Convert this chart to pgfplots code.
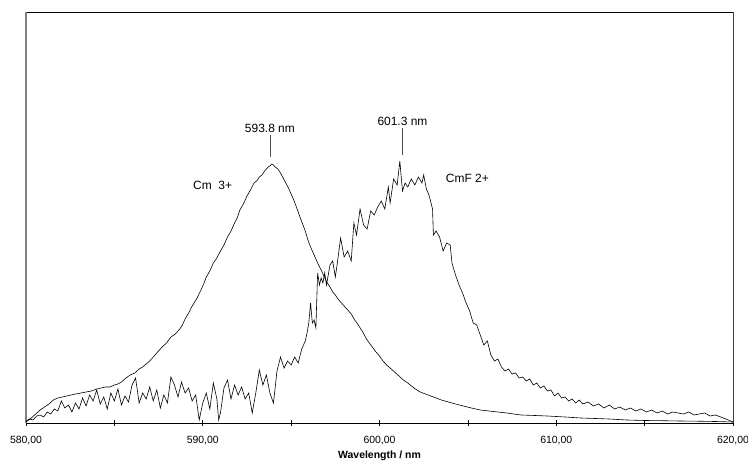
\documentclass[border=0pt]{standalone}
\usepackage{pgfplots}
\pgfplotsset{compat=1.18}
\usepackage{fontspec}
\setmainfont{Liberation Sans}
\usetikzlibrary{calc}
\begin{document}
\begin{tikzpicture}
\begin{axis}[
  name=ax,
  width=707bp, height=411bp, scale only axis,
  xmin=580, xmax=620, ymin=0, ymax=411,
  axis line style={draw=none},
  xtick={580,590,600,610,620},
  xticklabels={{580,00},{590,00},{600,00},{610,00},{620,00}},
  minor xtick={585,595,605,615},
  ytick=\empty,
  xtick pos=bottom,
  tick align=center,
  major tick length=6bp, minor tick length=6bp,
  tick style={black, line width=0.6bp},
  xticklabel style={font=\fontsize{10.5}{12}\selectfont, yshift=-7bp},
  xlabel={\textbf{Wavelength / nm}},
  xlabel style={font=\fontsize{10.5}{12}\selectfont, yshift=1bp},
  clip=false,
]
\draw[black, line width=0.7bp] (rel axis cs:0,0) -- (rel axis cs:1,0);
\draw[black, line width=0.7bp] (rel axis cs:0,1) -- (rel axis cs:1,1);
\draw[gray, line width=1.3bp] (rel axis cs:0,0) -- (rel axis cs:0,1);
\draw[black!75, line width=1bp] (rel axis cs:1,0) -- (rel axis cs:1,1);
% Cm3+
\addplot[black, line width=0.6bp] coordinates {
(580.0,1) (580.15,3) (580.3,5) (580.55,9) (580.8,13) (581.05,16) (581.3,19) (581.55,23) (581.8,25)
(582.05,26) (582.3,27) (582.55,28) (582.8,29) (583.1,30) (583.4,31) (583.7,32) (584.0,34)
(584.25,35) (584.5,36) (584.75,36) (585.0,38) (585.2,39) (585.4,41) (585.65,45) (585.9,48)
(586.15,50) (586.4,54) (586.6,56) (586.8,59) (587.0,62) (587.2,66) (587.45,71) (587.7,76)
(587.95,80) (588.2,86) (588.45,89) (588.7,94) (588.85,98) (589.0,104) (589.2,110) (589.4,117)
(589.65,124) (589.9,133) (590.05,139) (590.2,146) (590.4,152) (590.6,160) (590.8,165) (591.0,172)
(591.2,178) (591.4,186) (591.6,192) (591.8,200) (591.95,205) (592.1,213) (592.3,219) (592.5,227)
(592.7,233) (592.9,240) (593.05,242) (593.2,246) (593.35,248) (593.5,252) (593.6,254) (593.7,256)
(593.8,257) (593.9,259) (594.0,258) (594.1,256) (594.25,254) (594.4,250) (594.55,245) (594.7,240)
(594.85,235) (595.0,229) (595.15,223) (595.3,216) (595.4,211) (595.5,206) (595.65,199) (595.8,192)
(595.95,183) (596.1,176) (596.25,170) (596.4,164) (596.55,158) (596.7,153) (596.8,149) (596.9,145)
(597.05,140) (597.2,136) (597.35,131) (597.5,128) (597.65,124) (597.8,121) (597.95,118) (598.1,115)
(598.25,112) (598.4,109) (598.6,103) (598.8,98) (599.05,91) (599.3,83) (599.55,77) (599.8,71)
(600.0,67) (600.2,62) (600.4,58) (600.6,55) (600.85,51) (601.1,47) (601.35,43) (601.6,40)
(601.95,35) (602.3,31) (602.6,29) (602.9,27) (603.2,25) (603.5,23) (603.9,21) (604.3,19)
(604.75,17) (605.2,15) (605.7,13) (606.2,12) (606.7,11) (607.2,10) (607.6,9) (608.0,8)
(608.8,7.5) (609.5,7) (610.5,6) (611.4,5) (612.2,4.5) (613.0,4) (614.0,3) (615.0,2.5)
(616.0,2.3) (617.0,2) (618.0,1.8) (619.0,1.5) (620.0,1)
};
% CmF2+
\addplot[black, line width=0.6bp] coordinates {
(580.0,2) (580.2,4) (580.4,3) (580.6,7) (580.8,8) (581.0,6) (581.2,11) (581.4,9)
(581.6,14) (581.8,12) (582.0,22) (582.2,15) (582.4,18) (582.6,11) (582.8,20) (583.0,14)
(583.2,25) (583.4,17) (583.6,28) (583.8,22) (584.0,33) (584.2,19) (584.4,26) (584.6,14)
(584.8,30) (585.0,22) (585.2,34) (585.4,18) (585.6,27) (585.8,21) (586.0,38) (586.2,45)
(586.4,20) (586.6,30) (586.8,24) (587.0,36) (587.2,22) (587.4,33) (587.6,15) (587.8,28)
(588.0,20) (588.2,46) (588.4,38) (588.6,26) (588.8,41) (589.0,30) (589.2,35) (589.4,22)
(589.6,28) (589.8,3) (590.0,20) (590.2,30) (590.4,14) (590.6,40) (590.8,24) (590.9,3)
(591.0,10) (591.2,35) (591.4,43) (591.6,24) (591.8,38) (592.0,28) (592.2,36) (592.4,24)
(592.6,30) (592.8,10) (593.0,30) (593.2,53) (593.4,38) (593.6,48) (593.8,30) (594.0,20)
(594.2,52) (594.4,66) (594.6,55) (594.8,62) (595.0,58) (595.2,66) (595.4,60) (595.6,74)
(595.8,82) (595.9,90) (596.0,100) (596.1,120) (596.2,100) (596.3,103) (596.4,95) (596.5,150)
(596.6,138) (596.7,145) (596.8,140) (596.9,150) (597.0,138) (597.2,158) (597.35,162) (597.5,146)
(597.6,158) (597.8,185) (598.0,166) (598.2,172) (598.4,162) (598.55,200) (598.7,188) (598.9,214)
(599.1,198) (599.3,194) (599.5,212) (599.7,208) (599.9,216) (600.1,222) (600.3,214) (600.5,236)
(600.6,220) (600.8,244) (601.0,238) (601.15,262) (601.3,232) (601.45,240) (601.6,236) (601.8,244)
(602.0,238) (602.2,246) (602.4,240) (602.5,248) (602.65,234) (602.8,228) (603.0,214) (603.05,188)
(603.2,192) (603.4,186) (603.6,172) (603.8,180) (604.0,178) (604.1,160) (604.3,148) (604.5,138)
(604.7,130) (604.9,120) (605.1,112) (605.3,100) (605.5,98) (605.7,88) (605.9,78) (606.1,82)
(606.3,68) (606.5,62) (606.7,64) (606.9,56) (607.1,52) (607.3,54) (607.5,49) (607.7,50)
(607.9,45) (608.1,46) (608.3,42) (608.5,44) (608.7,38) (608.9,40) (609.1,35) (609.3,37)
(609.5,32) (609.7,33) (609.9,27) (610.1,30) (610.3,25) (610.5,26) (610.7,22) (610.9,24)
(611.1,20) (611.3,23) (611.5,19) (611.8,21) (612.1,17) (612.4,19) (612.7,15) (613.0,18)
(613.3,14) (613.6,16) (613.9,13) (614.2,15) (614.5,12) (614.8,14) (615.1,11) (615.4,13)
(615.7,10) (616.0,12) (616.3,9) (616.6,11) (616.9,10) (617.2,9) (617.5,11) (617.8,8)
(618.1,9) (618.4,10) (618.7,7) (619.0,8) (619.3,6) (619.6,4) (620.0,1)
};
% annotations
\draw[black!70, line width=0.6bp] (axis cs:593.8,288) -- (axis cs:593.8,266);
\draw[black!70, line width=0.6bp] (axis cs:601.3,295) -- (axis cs:601.3,268);
\node[font=\fontsize{12}{14}\selectfont, anchor=south, inner sep=0pt] at (axis cs:593.8,290) {593.8 nm};
\node[font=\fontsize{12}{14}\selectfont, anchor=south, inner sep=0pt] at (axis cs:601.3,297) {601.3 nm};
\node[font=\fontsize{12}{14}\selectfont, anchor=west, inner sep=0pt] at (axis cs:589.45,238) {Cm\ \ 3+};
\node[font=\fontsize{12}{14}\selectfont, anchor=west, inner sep=0pt] at (axis cs:603.75,245) {CmF 2+};
\end{axis}
\pgfresetboundingbox
\path[use as bounding box] ($(ax.south west)+(-26bp,-40bp)$) rectangle ($(ax.south west)+(722bp,423bp)$);
\end{tikzpicture}
\end{document}
